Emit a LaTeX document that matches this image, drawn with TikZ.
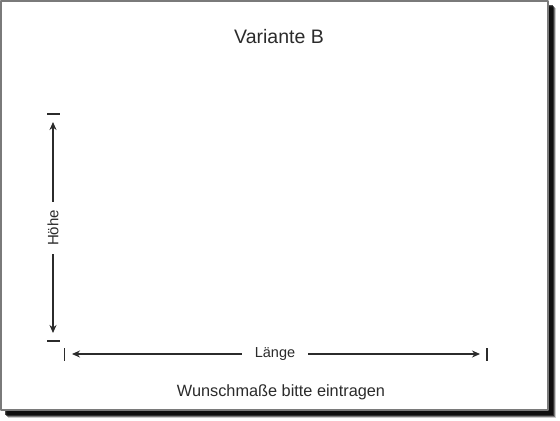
\documentclass[tikz,border=0pt]{standalone}
\usepackage{fontspec}
\setmainfont{Liberation Sans}
\usetikzlibrary{arrows.meta}
\definecolor{frame}{HTML}{7A7A7A}
\definecolor{ink}{HTML}{2B2B2B}
\tikzset{
  mass/.style={draw=ink,line width=1.3bp},
  tick/.style={draw=ink,line width=1.3bp},
  lbl/.style={text=ink,inner sep=0pt},
}
\begin{document}
\begin{tikzpicture}[x=1bp,y=-1bp,>={Stealth[length=8bp,width=7bp]},line join=round]
    \useasboundingbox (0,0) rectangle (560,420);
    % Schatten
    \foreach \s/\o in {8/0.2,7/0.4,6/0.6,5/0.7}
        \fill[black,opacity=\o] (\s,\s) rectangle (548+\s,410+\s);
    \fill[white] (0,0) rectangle (548,410);
    \draw[frame,line width=1.5bp] (0.75,0.75) rectangle (548,410);
    % Texte
    \node[lbl,font=\fontsize{19.5bp}{22bp}\selectfont] (ttl) at (279,37) {Variante B};
    \node[lbl,font=\fontsize{16.3bp}{19bp}\selectfont,anchor=base] (wunsch) at (281,396) {Wunschmaße bitte eintragen};
    \node[lbl,font=\fontsize{15bp}{17bp}\selectfont,rotate=90,inner xsep=8bp] (hoehe) at (53,228) {Höhe};
    \node[lbl,font=\fontsize{14.5bp}{17bp}\selectfont,inner xsep=13bp] (laenge) at (275,354) {Länge};
    % Maßpfeile
    \coordinate (hTop) at (53,122);
    \coordinate (hBot) at (53,333);
    \coordinate (lLeft) at (72,354);
    \coordinate (lRight) at (480,354);
    \draw[mass,->] (hoehe) -- (hTop);
    \draw[mass,->] (hoehe) -- (hBot);
    \draw[mass,->] (laenge) -- (lLeft);
    \draw[mass,->] (laenge) -- (lRight);
    % Begrenzungen
    \draw[tick] (47,114) -- (60,114);
    \draw[tick] (47,341) -- (60,341);
    \draw[tick] (64.5,348) -- (64.5,361);
    \draw[tick] (487,348) -- (487,361);
\end{tikzpicture}
\end{document}
